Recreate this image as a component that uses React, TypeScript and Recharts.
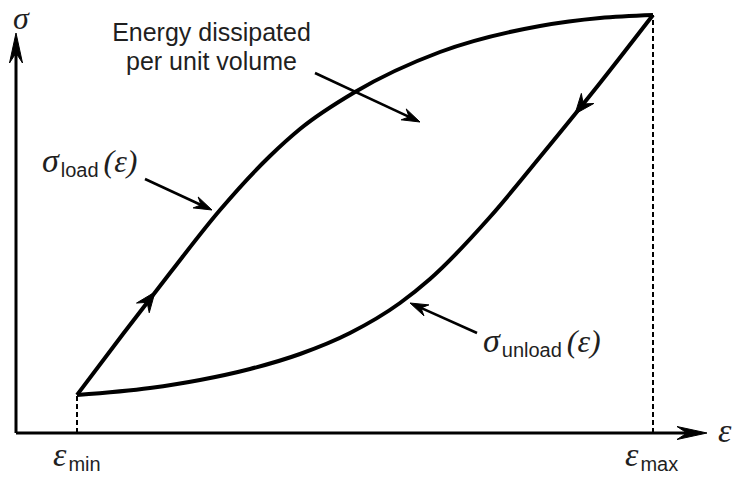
import React from 'react';
import { ComposedChart, Line, XAxis, YAxis, ReferenceLine, ReferenceDot } from 'recharts';

// Strain (ε) / stress (σ) pairs for the loading branch of the hysteresis loop
const loadCurve = [
  { strain: 6.1, stress: 3.8 },
  { strain: 10.7, stress: 9.9 },
  { strain: 15.4, stress: 16.0 },
  { strain: 20.4, stress: 22.3 },
  { strain: 25.4, stress: 27.7 },
  { strain: 28.4, stress: 30.4 },
  { strain: 33.9, stress: 34.1 },
  { strain: 42.4, stress: 38.1 },
  { strain: 52.4, stress: 40.7 },
  { strain: 58.4, stress: 41.5 },
  { strain: 63.7, stress: 41.8 },
];

// Unloading branch, listed from ε_min up to ε_max
const unloadCurve = [
  { strain: 6.1, stress: 3.8 },
  { strain: 13.4, stress: 4.5 },
  { strain: 18.4, stress: 5.3 },
  { strain: 23.4, stress: 6.4 },
  { strain: 28.4, stress: 7.9 },
  { strain: 33.4, stress: 10.0 },
  { strain: 38.4, stress: 13.0 },
  { strain: 41.4, stress: 15.4 },
  { strain: 47.4, stress: 21.6 },
  { strain: 52.4, stress: 27.6 },
  { strain: 58.4, stress: 35.0 },
  { strain: 63.7, stress: 41.8 },
];

const strainMin = 6.1;
const strainMax = 63.7;
const stressAtMin = 3.8;
const stressAtMax = 41.8;

const X_DOMAIN = [0, 70];
const Y_DOMAIN = [0, 43.3];

const SERIF = '"Liberation Serif", "DejaVu Serif", serif';
const SANS = '"Liberation Sans", Arial, sans-serif';
const INK = '#1f1f1f';

type Seg = { x1: number; y1: number; x2: number; y2: number };

function dartPoints(s: Seg, len: number, half: number, notch: number) {
  const dx = s.x2 - s.x1;
  const dy = s.y2 - s.y1;
  const L = Math.hypot(dx, dy) || 1;
  const ux = dx / L;
  const uy = dy / L;
  const px = -uy;
  const py = ux;
  const bx = s.x2 - ux * len;
  const by = s.y2 - uy * len;
  const nx = s.x2 - ux * notch;
  const ny = s.y2 - uy * notch;
  return {
    pts: `${s.x2},${s.y2} ${bx + px * half},${by + py * half} ${nx},${ny} ${bx - px * half},${by - py * half}`,
    nx,
    ny,
  };
}

// Line with a barbed head at its end point
const arrowShape = (width: number, len: number, half: number, notch: number) => (p: any) => {
  const s: Seg = { x1: +p.x1, y1: +p.y1, x2: +p.x2, y2: +p.y2 };
  const d = dartPoints(s, len, half, notch);
  return (
    <g>
      <line x1={s.x1} y1={s.y1} x2={d.nx} y2={d.ny} stroke="#000" strokeWidth={width} />
      <polygon points={d.pts} fill="#000" stroke="#000" strokeWidth={1} strokeLinejoin="miter" />
    </g>
  );
};

// Head only, placed on a curve to show the direction of travel
const headShape = (len: number, half: number, notch: number) => (p: any) => {
  const s: Seg = { x1: +p.x1, y1: +p.y1, x2: +p.x2, y2: +p.y2 };
  const d = dartPoints(s, len, half, notch);
  return <polygon points={d.pts} fill="#000" stroke="#000" strokeWidth={1} />;
};

const symbolLabel = (
  main: string,
  sub: string,
  arg: boolean,
  size = 34,
  anchor: 'start' | 'middle' = 'start'
) => (p: any) => (
  <text x={p.cx} y={p.cy} fill={INK} textAnchor={anchor}>
    <tspan fontFamily={SERIF} fontStyle="italic" fontSize={size}>{main}</tspan>
    {sub ? (
      <tspan fontFamily={SANS} fontSize={20} dy={5} dx={2}>{sub}</tspan>
    ) : null}
    {arg ? (
      <tspan fontFamily={SERIF} fontStyle="italic" fontSize={32} dy={-5} dx={5}>(ε)</tspan>
    ) : null}
  </text>
);

const textLabel = (lines: string[]) => (p: any) => (
  <text x={p.cx} y={p.cy} fill={INK} textAnchor="middle" fontFamily={SANS} fontSize={25}>
    {lines.map((l, i) => (
      <tspan key={i} x={p.cx} dy={i === 0 ? 0 : 29}>{l}</tspan>
    ))}
  </text>
);

export default function App() {
  return (
    <div style={{ position: 'absolute', left: 0, top: 0, background: '#fff' }}>
      <ComposedChart width={732} height={477} margin={{ top: 0, right: 16, bottom: 44, left: 16 }}>
        <XAxis type="number" dataKey="strain" domain={X_DOMAIN} hide allowDataOverflow />
        <YAxis type="number" dataKey="stress" domain={Y_DOMAIN} hide allowDataOverflow />

        {/* dashed guides at the strain limits */}
        <ReferenceLine
          segment={[{ x: strainMin, y: 0 }, { x: strainMin, y: stressAtMin }]}
          stroke="#000" strokeWidth={2} strokeDasharray="5 3" ifOverflow="visible"
        />
        <ReferenceLine
          segment={[{ x: strainMax, y: 0 }, { x: strainMax, y: stressAtMax }]}
          stroke="#000" strokeWidth={2} strokeDasharray="5 3" ifOverflow="visible"
        />

        {/* axes with arrow heads */}
        <ReferenceLine
          segment={[{ x: 0, y: 0 }, { x: 69.1, y: 0 }]}
          ifOverflow="visible" shape={arrowShape(3, 30, 6.5, 20)}
        />
        <ReferenceLine
          segment={[{ x: 0, y: 0 }, { x: 0, y: 40 }]}
          ifOverflow="visible" shape={arrowShape(3, 30, 6.5, 20)}
        />

        <Line data={loadCurve} dataKey="stress" type="monotone" stroke="#000" strokeWidth={4}
          dot={false} activeDot={false} isAnimationActive={false} />
        <Line data={unloadCurve} dataKey="stress" type="monotone" stroke="#000" strokeWidth={4}
          dot={false} activeDot={false} isAnimationActive={false} />

        {/* direction-of-travel heads on the branches */}
        <ReferenceLine
          segment={[{ x: 10.7, y: 9.9 }, { x: 13.9, y: 14.1 }]}
          ifOverflow="visible" shape={headShape(20, 8, 13)}
        />
        <ReferenceLine
          segment={[{ x: 59.3, y: 36.1 }, { x: 55.9, y: 31.9 }]}
          ifOverflow="visible" shape={headShape(20, 8, 13)}
        />

        {/* annotation pointers */}
        <ReferenceLine
          segment={[{ x: 29.9, y: 36.0 }, { x: 40.4, y: 31.1 }]}
          ifOverflow="visible" shape={arrowShape(2.6, 18, 6, 12)}
        />
        <ReferenceLine
          segment={[{ x: 12.9, y: 25.4 }, { x: 19.6, y: 22.3 }]}
          ifOverflow="visible" shape={arrowShape(2.6, 18, 6, 12)}
        />
        <ReferenceLine
          segment={[{ x: 46.1, y: 10.0 }, { x: 39.4, y: 13.0 }]}
          ifOverflow="visible" shape={arrowShape(2.6, 18, 6, 12)}
        />

        {/* text */}
        <ReferenceDot x={0.5} y={40.45} r={0} ifOverflow="visible" shape={symbolLabel('σ', '', false, 32, 'middle')} />
        <ReferenceDot x={70.2} y={-0.9} r={0} ifOverflow="visible" shape={symbolLabel('ε', '', false)} />
        <ReferenceDot x={3.7} y={-3.3} r={0} ifOverflow="visible" shape={symbolLabel('ε', 'min', false)} />
        <ReferenceDot x={60.9} y={-3.3} r={0} ifOverflow="visible" shape={symbolLabel('ε', 'max', false)} />
        <ReferenceDot x={2.6} y={26.1} r={0} ifOverflow="visible" shape={symbolLabel('σ', 'load', true)} />
        <ReferenceDot x={46.7} y={8.1} r={0} ifOverflow="visible" shape={symbolLabel('σ', 'unload', true)} />
        <ReferenceDot x={19.55} y={39.2} r={0} ifOverflow="visible"
          shape={textLabel(['Energy dissipated', 'per unit volume'])} />
      </ComposedChart>
    </div>
  );
}
